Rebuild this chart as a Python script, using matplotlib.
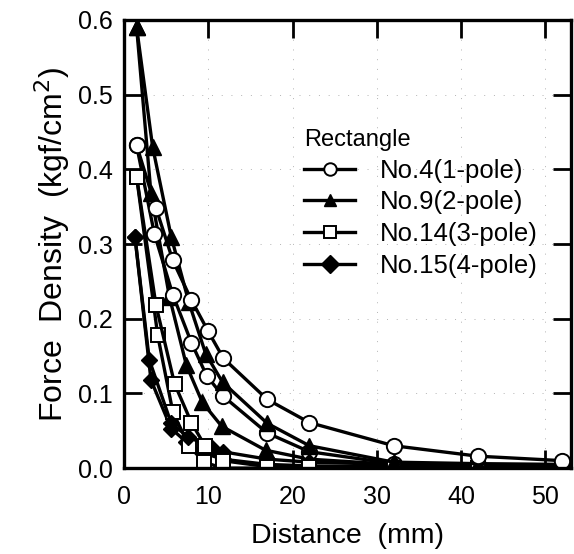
import matplotlib
matplotlib.use("Agg")
import matplotlib.pyplot as plt

plt.rcParams['font.family'] = ['Liberation Sans', 'DejaVu Sans']

# distance (mm) and force density (kgf/cm^2), two curves per magnet
x_c1 = [1.5, 3.8, 5.8, 8.0, 10.0, 11.8, 17, 22, 32, 42, 52]
y_c1 = [0.432, 0.348, 0.278, 0.225, 0.183, 0.147, 0.092, 0.061, 0.030, 0.016, 0.010]
x_c2 = [1.5, 3.6, 5.8, 8.0, 9.8, 11.7, 17, 22, 32, 42, 52]
y_c2 = [0.432, 0.314, 0.232, 0.168, 0.124, 0.097, 0.047, 0.022, 0.006, 0.004, 0.003]

x_t1 = [1.5, 3.4, 5.6, 7.7, 9.7, 11.7, 17, 22, 32, 42, 52]
y_t1 = [0.59, 0.43, 0.31, 0.222, 0.153, 0.115, 0.060, 0.030, 0.008, 0.006, 0.005]
x_t2 = [1.5, 3.2, 5.4, 7.4, 9.3, 11.6, 16.8, 22, 32, 42, 52]
y_t2 = [0.59, 0.368, 0.229, 0.138, 0.088, 0.056, 0.024, 0.012, 0.005, 0.004, 0.003]

x_s1 = [1.5, 3.8, 6.0, 8.0, 9.6, 11.7, 17, 22, 32, 42, 52]
y_s1 = [0.39, 0.218, 0.113, 0.061, 0.030, 0.010, 0.002, 0.001, 0.0, 0.0, 0.0]
x_s2 = [1.5, 4.0, 5.8, 7.7, 9.5, 11.7, 17, 22, 32, 42, 52]
y_s2 = [0.39, 0.178, 0.075, 0.030, 0.008, 0.0, 0.0, 0.0, 0.0, 0.0, 0.0]

x_d1 = [1.3, 3.0, 5.6, 7.6, 10.3, 11.7, 17, 22, 32, 42, 52]
y_d1 = [0.31, 0.145, 0.060, 0.042, 0.028, 0.022, 0.012, 0.008, 0.005, 0.004, 0.003]
x_d2 = [1.3, 3.2, 5.6, 7.4, 9.5, 11.7, 17, 22, 32, 42, 52]
y_d2 = [0.31, 0.118, 0.053, 0.035, 0.020, 0.012, 0.005, 0.003, 0.002, 0.002, 0.002]

labels = ["No.4(1-pole)", "No.9(2-pole)", "No.14(3-pole)", "No.15(4-pole)"]

fig = plt.figure(figsize=(5.74, 5.54), dpi=100)
ax = fig.add_axes([0.216, 0.155, 0.778, 0.809])

lw = 2.4
opts_c = dict(color='black', lw=lw, marker='o', ms=11, mfc='white', mec='black', mew=1.4)
opts_t = dict(color='black', lw=lw, marker='^', ms=11, mfc='black', mec='black')
opts_s = dict(color='black', lw=lw, marker='s', ms=10.5, mfc='white', mec='black', mew=1.4)
opts_d = dict(color='black', lw=lw, marker='D', ms=8.5, mfc='black', mec='black')

# draw the "near" curves first, so the others sit on top
ax.plot(x_d2, y_d2, **opts_d)
ax.plot(x_s2, y_s2, **opts_s)
ax.plot(x_t2, y_t2, **opts_t)
ax.plot(x_c2, y_c2, **opts_c)
h4, = ax.plot(x_d1, y_d1, **opts_d)
h3, = ax.plot(x_s1, y_s1, **opts_s)
h2, = ax.plot(x_t1, y_t1, **opts_t)
h1, = ax.plot(x_c1, y_c1, **opts_c)

ax.set_xlim(0, 53)
ax.set_ylim(0, 0.6)
ax.set_xticks([0, 10, 20, 30, 40, 50])
ax.set_yticks([0.0, 0.1, 0.2, 0.3, 0.4, 0.5, 0.6])
ax.set_yticklabels(["0.0", "0.1", "0.2", "0.3", "0.4", "0.5", "0.6"])
ax.tick_params(direction='in', length=13, width=2, labelsize=18,
               top=True, right=True)
ax.tick_params(axis='x', pad=12)
ax.tick_params(axis='y', pad=8)
for s in ax.spines.values():
    s.set_linewidth(2.4)

ax.grid(True, color='0.7', linestyle=(0, (1, 9)), lw=0.7)

ax.set_xlabel("Distance  (mm)", fontsize=20.5, labelpad=10)
ax.set_ylabel("Force  Density  (kgf/cm$^2$)", fontsize=23, labelpad=4)

leg = ax.legend([h1, h2, h3, h4], labels, title="Rectangle", frameon=False,
                fontsize=18.5, title_fontsize=17, alignment='left',
                handlelength=2.0, handletextpad=0.95, labelspacing=0.3,
                borderpad=0, loc='upper left',
                bbox_to_anchor=(291 / 574, 1 - 116 / 554),
                bbox_transform=fig.transFigure)
for lh in leg.legend_handles:
    lh.set_markersize(9)
    lh.set_linewidth(2.4)

fig.savefig("out.png", dpi=100)
